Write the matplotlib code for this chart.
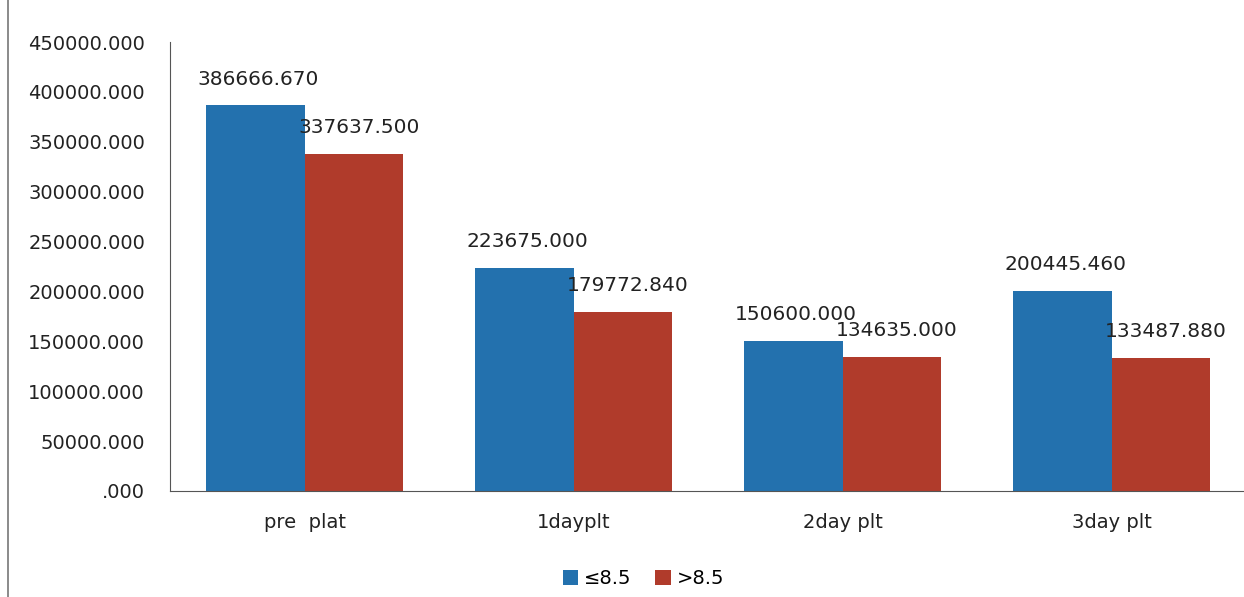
import numpy as np
import matplotlib
matplotlib.use("Agg")
import matplotlib.pyplot as plt
from matplotlib.lines import Line2D

# data
categories = ["pre  plat", "1dayplt", "2day plt", "3day plt"]
low_vals = [386666.670, 223675.000, 150600.000, 200445.460]
high_vals = [337637.500, 179772.840, 134635.000, 133487.880]
series_names = ["\u22648.5", ">8.5"]

blue = "#2371AE"
red = "#B03B2B"

plt.rcParams["font.family"] = ["DejaVu Sans"]

fig = plt.figure(figsize=(12.44, 5.97), dpi=100)
ax = fig.add_axes([170 / 1244, 1 - 491 / 597, (1246 - 170) / 1244, (491 - 42) / 597])

x = np.arange(len(categories))
w = 0.365
b1 = ax.bar(x - w / 2, low_vals, w, color=blue, label=series_names[0])
b2 = ax.bar(x + w / 2, high_vals, w, color=red, label=series_names[1])

for rect, v in zip(b1, low_vals):
    ax.annotate(f"{v:.3f}", (rect.get_x() + rect.get_width() / 2 + 0.01, v),
                xytext=(0, 12), textcoords="offset points",
                ha="center", va="bottom", fontsize=14.5, color="#222222")
for rect, v in zip(b2, high_vals):
    ax.annotate(f"{v:.3f}", (rect.get_x() + rect.get_width() / 2 + 0.02, v),
                xytext=(0, 12), textcoords="offset points",
                ha="center", va="bottom", fontsize=14.5, color="#222222")

ax.set_xlim(-0.5, len(categories) - 0.5)
ax.set_ylim(0, 450000)
ax.set_yticks(np.arange(0, 450001, 50000))
ax.set_yticklabels([".000" if t == 0 else f"{t:.3f}" for t in np.arange(0, 450001, 50000)])
ax.set_xticks(x)
ax.set_xticklabels(categories)
ax.tick_params(axis="both", length=0, labelsize=14, colors="#222222")
ax.tick_params(axis="y", pad=18)
ax.tick_params(axis="x", pad=16)

for side in ["top", "right"]:
    ax.spines[side].set_visible(False)
ax.spines["left"].set_color("#555555")
ax.spines["bottom"].set_color("#555555")

ax.legend(loc="upper center", bbox_to_anchor=(0.44, -0.135), ncol=2, frameon=False,
          fontsize=14, handlelength=0.8, handleheight=0.8, handletextpad=0.3,
          columnspacing=1.2)

# thin frame line at the far left edge
fig.add_artist(Line2D([8 / 1244, 8 / 1244], [0, 1], color="#777777", lw=1.2))

plt.savefig("out.png", dpi=100)
